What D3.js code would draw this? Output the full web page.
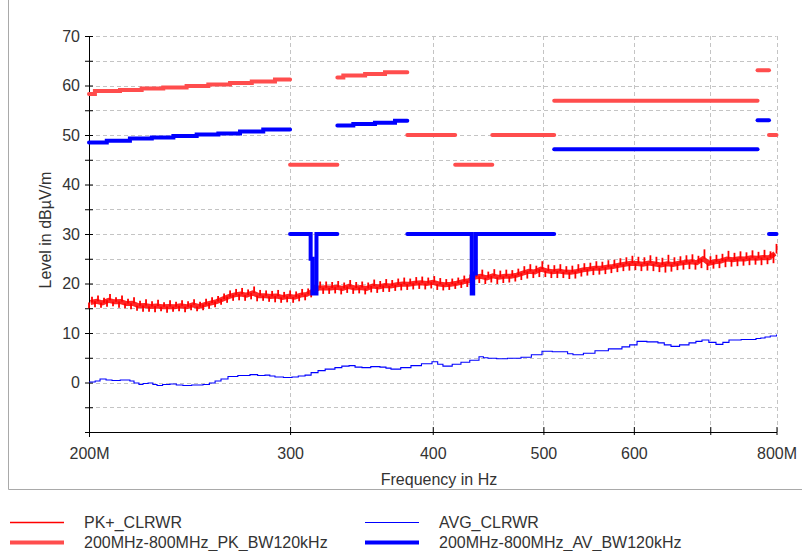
<!DOCTYPE html>
<html><head><meta charset="utf-8">
<script src="https://cdn.jsdelivr.net/npm/d3@7/dist/d3.min.js"></script>
<style>
body{margin:0;background:#fff}
svg{display:block}
text{font-family:"Liberation Sans",Arial,sans-serif;fill:#333}
</style>
</head><body>
<svg id="chart" width="802" height="551"></svg>
<script>
// ---------- data ----------
const xTickValues = [200, 300, 400, 500, 600, 700, 800];
const xTickLabels = ["200M", "300", "400", "500", "600", "", "800M"];
const yTickValues = [-10, -5, 0, 5, 10, 15, 20, 25, 30, 35, 40, 45, 50, 55, 60, 65, 70];
const yTickLabels = ["", "", "0", "", "10", "", "20", "", "30", "", "40", "", "50", "", "60", "", "70"];
const xTitle = "Frequency in Hz";
const yTitle = "Level in dBµV/m";
const seriesNames = ["PK+_CLRWR", "AVG_CLRWR", "200MHz-800MHz_PK_BW120kHz", "200MHz-800MHz_AV_BW120kHz"];

// PK+_CLRWR trace levels (dBµV/m), sweep 200 MHz .. 800 MHz (low/high sample pairs)
const pkStartMHz = 200, pkStopMHz = 800;
const pkLevels = [
15.0,17.3,15.2,17.6,15.1,17.1,15.3,17.9,15.4,17.2,
15.1,17.6,15.0,16.9,14.8,17.2,14.5,16.5,14.3,16.8,
14.3,16.4,14.2,16.7,14.4,16.2,14.1,16.6,14.3,16.3,
14.4,16.6,14.2,16.4,14.6,16.8,14.4,16.3,14.6,16.9,
14.9,17.2,15.2,17.5,15.7,18.0,16.1,18.6,16.5,18.9,
16.6,19.1,16.5,18.8,16.8,19.4,16.4,18.7,16.5,18.6,
16.3,18.5,16.2,18.7,16.1,18.3,16.2,18.6,16.1,18.4,
16.4,18.9,16.6,19.0,17.2,19.7,17.8,20.4,17.9,20.4,
17.9,20.3,18.0,20.5,17.8,20.2,18.1,20.7,17.9,20.3,
18.0,20.4,17.8,20.2,18.2,20.8,18.1,20.5,18.3,20.9,
18.3,20.7,18.5,21.0,18.6,21.2,18.7,21.0,18.8,21.3,
18.9,21.4,18.8,21.2,19.0,21.5,18.7,21.1,18.6,20.9,
18.7,21.0,18.9,21.2,19.1,21.6,19.3,21.8,19.9,22.7,
20.1,22.8,19.9,22.4,20.2,22.9,19.9,22.6,20.1,22.8,
20.2,22.7,20.4,23.0,20.7,23.5,21.0,23.9,21.1,23.6,
21.3,24.5,21.3,23.8,21.1,23.7,21.1,23.9,21.1,23.5,
20.9,23.6,21.0,23.9,21.4,24.1,21.6,24.2,21.7,24.5,
21.8,24.4,21.9,24.7,22.1,24.8,22.3,25.1,22.5,25.3,
22.6,25.6,22.7,25.4,22.5,25.3,22.6,25.7,22.5,25.4,
22.3,25.2,22.2,25.8,22.4,25.3,22.7,25.5,22.8,25.7,
22.9,25.9,22.8,25.6,23.1,26.9,22.7,25.5,23.0,25.8,
23.1,26.0,23.3,26.6,23.4,26.2,23.5,26.5,23.6,26.3,
23.7,26.7,23.8,26.4,23.7,26.8,23.9,26.5,24.1,28.0
];

// AVG_CLRWR trace
const avgFreq = [200,202.5,204.5,207,209.5,213,217.2,219,221.2,223,225.3,227.5,229.4,232,235.5,238.5,241.7,246,251.7,255,257.9,261,264.7,270,276.7,281,285.2,288,291.0,296,301.2,305,309.2,313,317.4,322,328.4,333,337.9,342,346.8,353,359.6,364,367.7,375,382.8,391,399.4,404,408.3,416,423.4,431,439.1,443,447.1,455,465,477.9,488,498.6,509,520.1,525,530.7,542,554.8,570,585.8,595,603.9,616,629.9,638,646.7,658,670.6,680,688.4,698,708.1,718,726.9,745,767.6,775,781.7,790,800];
const avgLevel = [0.1,0.3,0.7,0.5,0.4,0.5,0.3,-0.1,-0.4,-0.2,-0.1,-0.4,-0.6,-0.4,-0.3,-0.5,-0.6,-0.5,-0.4,-0.1,0.3,0.7,1.2,1.4,1.6,1.4,1.5,1.3,1.1,1.0,1.1,1.3,1.5,2.0,2.4,2.7,3.0,3.3,3.4,3.1,3.0,3.2,3.1,2.9,2.7,3.0,3.4,3.8,4.2,3.7,3.3,3.7,4.1,4.5,5.2,5.0,4.9,4.8,4.9,5.1,5.6,6.3,6.2,6.2,5.8,5.6,5.9,6.4,6.8,7.2,7.6,8.3,8.2,8.0,7.6,7.3,7.6,8.0,8.3,8.6,8.1,7.7,8.1,8.6,8.7,8.9,9.0,9.2,9.4,9.7];

// PK limit segments: [freq MHz, level]
const pkLimitSegments = [
  [[200,58.3],[202.4,58.9],[212.9,59.1],[222.4,59.4],[232.3,59.6],[243.5,59.9],[254.4,60.2],[265.8,60.5],[277.7,60.8],[291,61.2],[300,61.2]],
  [[300,44],[330,44]],
  [[330,61.6],[334,62.0],[349,62.3],[363.3,62.7],[380,62.7]],
  [[380,50],[418.5,50]],
  [[418.5,44],[451,44]],
  [[451,50],[511,50]],
  [[511,56.9],[770,56.9]],
  [[770,63.1],[788,63.1]],
  [[788,50],[800,50]]
];
// AV limit segments
const avLimitSegments = [
  [[200,48.5],[207.3,48.85],[217.2,49.3],[227,49.5],[237.1,49.8],[248.5,50.1],[259.6,50.3],[271.2,50.7],[284.2,51.1],[300,51.1]],
  [[300,30],[312.7,25],[313.8,18],[316.4,30],[330,30]],
  [[330,51.9],[340.8,52.2],[356,52.5],[370.7,52.9],[380,52.9]],
  [[380,30],[432.7,18],[434,22],[436.3,30],[511,30]],
  [[511,47.1],[770,47.1]],
  [[770,53],[788,53]],
  [[788,30],[800,30]]
];

const colPkTrace = "#ff0000", colAvgTrace = "#0000ff", colPkLimit = "#ff4d4d", colAvLimit = "#0000ff";

// ---------- drawing ----------
const svg = d3.select("#chart");
svg.append("rect").attr("width",802).attr("height",551).attr("fill","#fff");

const x = d3.scaleLog().domain([200, 800]).range([89, 776.5]);
const y = d3.scaleLinear().domain([-10, 70]).range([432, 36]);

// outer frame
svg.append("path").attr("d","M8.5,0V489.5H802").attr("fill","none").attr("stroke","#a9a9a9").attr("stroke-width",1);

// grid
const grid = svg.append("g");
grid.selectAll("line.h").data(yTickValues.filter(v => v > -10)).enter().append("line")
  .attr("x1", 89).attr("x2", 776.5).attr("y1", d => Math.round(y(d)) + 0.5).attr("y2", d => Math.round(y(d)) + 0.5)
  .attr("stroke", "#c4c4c4").attr("stroke-dasharray", "4,3");
grid.selectAll("line.v").data(xTickValues.filter(v => v > 200)).enter().append("line")
  .attr("x1", d => Math.round(x(d)) + 0.5).attr("x2", d => Math.round(x(d)) + 0.5).attr("y1", 36).attr("y2", 432)
  .attr("stroke", "#c4c4c4").attr("stroke-dasharray", "4,3");

// axes
const yAxis = d3.axisLeft(y).tickValues(yTickValues).tickSize(0).tickFormat((d, i) => yTickLabels[i]).tickPadding(9);
const gy = svg.append("g").attr("transform", "translate(89,0)").call(yAxis);
gy.select(".domain").remove();
gy.selectAll("text").style("font-size", "16px").attr("fill", "#333");
gy.selectAll(".tick").append("line").attr("x1", -4).attr("x2", 4).attr("stroke", "#000");
svg.append("line").attr("x1", 89.5).attr("x2", 89.5).attr("y1", 36).attr("y2", 437).attr("stroke", "#000");

const xAxis = d3.axisBottom(x).tickValues(xTickValues).tickSize(0).tickFormat((d, i) => xTickLabels[i]).tickPadding(16);
const gx = svg.append("g").attr("transform", "translate(0,432)").call(xAxis);
gx.select(".domain").remove();
gx.selectAll("text").style("font-size", "16px").attr("fill", "#333");
gx.selectAll(".tick").append("line").attr("y1", -5).attr("y2", 3).attr("stroke", "#000");
svg.append("line").attr("x1", 89).attr("x2", 777).attr("y1", 432.5).attr("y2", 432.5).attr("stroke", "#000");

svg.append("text").attr("x", 439).attr("y", 485).attr("text-anchor", "middle").style("font-size", "16px").text(xTitle);
svg.append("text").attr("transform", "translate(51,230) rotate(-90)").attr("text-anchor", "middle").style("font-size", "16px").text(yTitle);

// traces
const n = pkLevels.length;
const pkFreq = pkLevels.map((v, i) => pkStartMHz * Math.pow(pkStopMHz / pkStartMHz, i / (n - 1)));
// band core: mean of each low/high pair
const pkCore = [];
for (let i = 0; i + 1 < n; i += 2) pkCore.push([Math.sqrt(pkFreq[i] * pkFreq[i + 1]), (pkLevels[i] + pkLevels[i + 1]) / 2]);
const coreAt = i => pkCore[Math.min(Math.floor(i / 2), pkCore.length - 1)][1];
const lineFn = d3.line().x(d => x(d[0])).y(d => y(d[1]));
svg.append("path").datum(pkCore).attr("d", lineFn).attr("fill", "none").attr("stroke", colPkTrace)
  .attr("stroke-width", 5).attr("opacity", 0.85);
// vertical spikes, one per sample, from the band core to the sample level
svg.append("g").selectAll("line").data(pkLevels).enter().append("line")
  .attr("x1", (d, i) => x(pkFreq[i])).attr("x2", (d, i) => x(pkFreq[i]))
  .attr("y1", (d, i) => y(coreAt(i))).attr("y2", d => y(d))
  .attr("stroke", colPkTrace).attr("stroke-width", 1.8);

const avgData = avgFreq.map((f, i) => [f, avgLevel[i]]);
svg.append("path").datum(avgData).attr("d", d3.line().x(d => x(d[0])).y(d => y(d[1])).curve(d3.curveStepAfter))
  .attr("fill", "none").attr("stroke", colAvgTrace).attr("stroke-width", 1.1);

// limits
const stepLine = d3.line().x(d => x(d[0])).y(d => y(d[1])).curve(d3.curveStepAfter);
svg.selectAll("path.pkl").data(pkLimitSegments).enter().append("path").attr("class", "pkl")
  .attr("d", stepLine).attr("fill", "none").attr("stroke", colPkLimit).attr("stroke-width", 4).attr("stroke-linecap", "round");
svg.selectAll("path.avl").data(avLimitSegments).enter().append("path").attr("class", "avl")
  .attr("d", stepLine).attr("fill", "none").attr("stroke", colAvLimit).attr("stroke-width", 4).attr("stroke-linecap", "round");

// legend
const legend = [
  {name: seriesNames[0], col: colPkTrace, w: 1.3, lx: 10, ty: 522},
  {name: seriesNames[2], col: colPkLimit, w: 4, lx: 10, ty: 542},
  {name: seriesNames[1], col: colAvgTrace, w: 1.1, lx: 365, ty: 522},
  {name: seriesNames[3], col: colAvLimit, w: 4, lx: 365, ty: 542}
];
const lg = svg.append("g");
legend.forEach(l => {
  lg.append("line").attr("x1", l.lx).attr("x2", l.lx + 54).attr("y1", l.ty + 0.5).attr("y2", l.ty + 0.5)
    .attr("stroke", l.col).attr("stroke-width", l.w);
  lg.append("text").attr("x", l.lx + 74).attr("y", l.ty + 6).style("font-size", "16px").text(l.name);
});
</script>
</body></html>
